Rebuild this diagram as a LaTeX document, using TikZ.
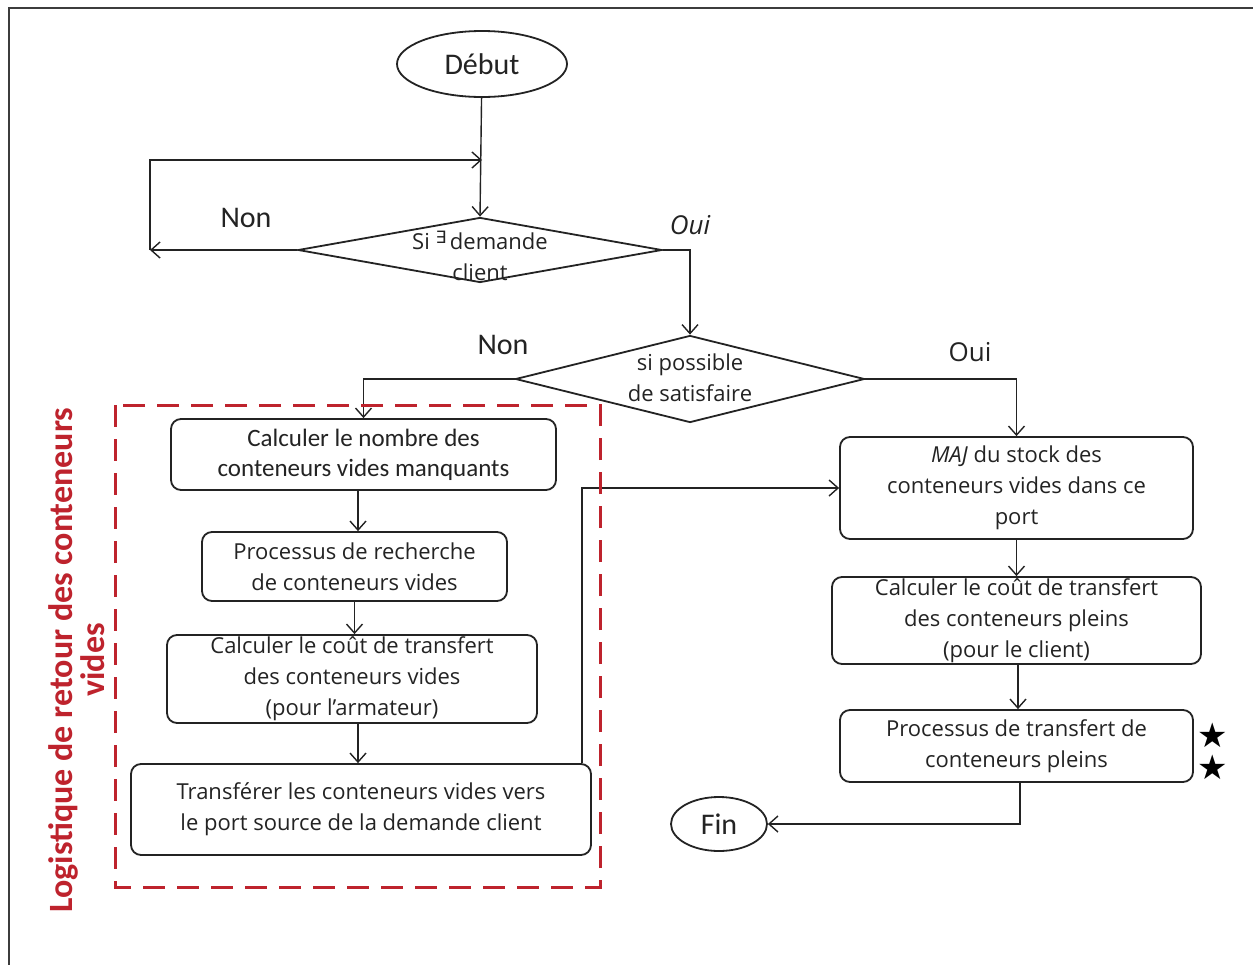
\documentclass[tikz,border=0pt]{standalone}
\usepackage{fontspec}
\setmainfont{Carlito}
\newfontfamily\comic{Open Sans}
\newfontfamily\symb{DejaVu Sans}
\usetikzlibrary{shapes.geometric,arrows.meta}
\definecolor{framegray}{RGB}{60,60,60}
\definecolor{zonered}{RGB}{190,35,45}
\definecolor{ink}{RGB}{35,35,35}

\begin{document}
\begin{tikzpicture}[x=0.5pt,y=-0.5pt,
  arr/.style={draw=ink,line width=0.7pt,-{Straight Barb[length=4.5pt,width=8pt]}},
  box/.style={draw=ink,line width=0.9pt,rounded corners=5pt,inner sep=0pt,align=center,text=ink},
  term/.style={ellipse,draw=ink,line width=0.9pt,inner sep=0pt,text=ink,font=\fontsize{15}{18}\selectfont},
  decision/.style={diamond,draw=ink,line width=0.9pt,inner sep=0pt},
  ctext/.style={font=\comic\fontsize{11}{15.5}\selectfont},
  stext/.style={font=\fontsize{12.5}{15}\selectfont},
  lbl/.style={inner sep=0pt,text=ink},
]
\useasboundingbox (0,0) rectangle (1253,964);
\fill[white] (0,0) rectangle (1253,964);
% page frame (left and top edges)
\draw[framegray,line width=1pt] (9,990) -- (9,8) -- (1280,8);

% terminals
\node[term,minimum width=85pt,minimum height=33pt] (debut) at (482,64) {Début};
\node[term,minimum width=48pt,minimum height=27pt] (fin) at (719,824) {Fin};

% decisions
\node[decision,minimum width=182pt,minimum height=32.5pt] (d1) at (480,250) {};
\node[lbl,ctext,align=center] (d1t) at (480,256) {Si \raisebox{0.55ex}{\symb\fontsize{8.5}{8.5}\selectfont ∃}\,demande\\client};
\node[decision,minimum width=174.5pt,minimum height=43.5pt] (d2) at (690,379) {};
\node[lbl,ctext,align=center] (d2t) at (690,378) {si possible\\de satisfaire};

% left column
\node[box,stext,minimum width=192.5pt,minimum height=35.5pt] (b1) at (363.5,454.5)
  {Calculer le nombre des\\conteneurs vides manquants};
\node[box,ctext,minimum width=152.5pt,minimum height=34.5pt] (b2) at (354.5,566.5)
  {Processus de recherche\\de conteneurs vides};
\node[box,ctext,minimum width=185pt,minimum height=44pt] (b3) at (352,679)
  {Calculer le coût de transfert\\des conteneurs vides\\(pour l’armateur)};
\node[box,ctext,minimum width=230pt,minimum height=45.5pt] (b4) at (361,809.5)
  {Transférer les conteneurs vides vers\\le port source de la demande client};

% right column
\node[box,ctext,minimum width=176.5pt,minimum height=51pt] (maj) at (1016.5,488)
  {\textit{MAJ} du stock des\\conteneurs vides dans ce\\port};
\node[box,ctext,minimum width=184.5pt,minimum height=43.5pt] (b6) at (1016.5,620.5)
  {Calculer le coût de transfert\\des conteneurs pleins\\(pour le client)};
\node[box,ctext,minimum width=176.5pt,minimum height=36pt] (b7) at (1016.5,746)
  {Processus de transfert de\\conteneurs pleins};

% stars
\node[lbl,font=\symb\fontsize{17}{17}\selectfont,text=black] (star1) at (1213,735) {★};
\node[lbl,font=\symb\fontsize{17}{17}\selectfont,text=black] (star2) at (1213,767) {★};

% branch labels
\node[lbl,font=\fontsize{15}{18}\selectfont] (non1) at (246,218) {Non};
\node[lbl,font=\comic\itshape\fontsize{13}{16}\selectfont] (oui1) at (690,225) {Oui};
\node[lbl,font=\fontsize{15}{18}\selectfont] (non2) at (503,345) {Non};
\node[lbl,font=\comic\fontsize{13}{16}\selectfont] (oui2) at (970,352) {Oui};

% zone label
\node[rotate=90,inner sep=0pt,align=center,text=zonered,font=\bfseries\fontsize{17}{16}\selectfont] (zone) at (77,660)
  {Logistique de retour des conteneurs\\vides};

% connectors
\coordinate (loopL) at (150,250);
\coordinate (loopT) at (482,160);
\draw[arr] (debut) -- (d1.north);
\draw[arr] (d1.west) -- (loopL);
\draw[arr] (loopL) |- (loopT);
\draw[arr] (d1.east) -| (d2.north);
\draw[arr] (d2.west) -| (b1.north);
\draw[arr] (d2.east) -| (maj.north);
\draw[arr] (b1.south -| 358,0) -- (b2.north -| 358,0);
\draw[arr] (b2.south -| b2.south) -- (b3.north -| b2.south);
\draw[arr] (b3.south -| 358,0) -- (b4.north -| 358,0);
\draw[arr] ([xshift=-5pt]b4.north east) |- (maj.west);
\draw[arr] (maj.south) -- (b6.north);
\draw[arr] (b6.south -| 1018,0) -- (b7.north -| 1018,0);
\draw[arr] (b7.south -| 1020,0) |- (fin.east);

% dashed zone frame
\draw[zonered,line width=1.5pt,dash pattern=on 11pt off 6pt] (115,405) rectangle (600,887);
\end{tikzpicture}
\end{document}
